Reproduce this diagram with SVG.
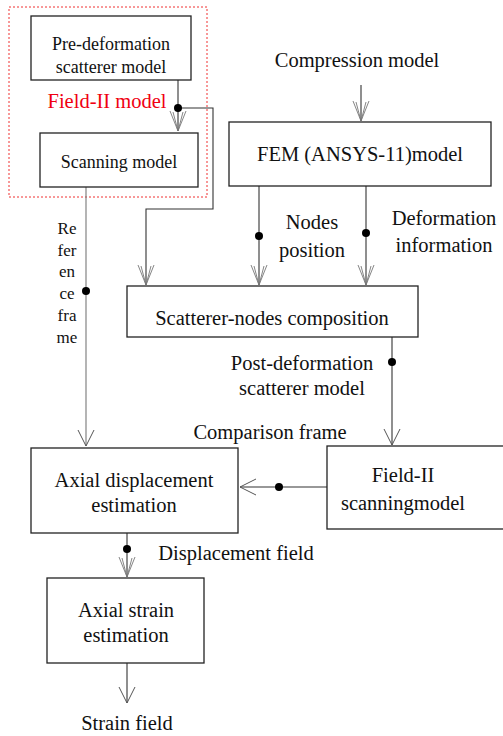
<svg xmlns="http://www.w3.org/2000/svg" width="503" height="736" viewBox="0 0 503 736">
<style>
.box{fill:#fff;stroke:#222;stroke-width:1.3}
.t{font-family:"Liberation Serif","Times New Roman",serif;font-size:20.5px;fill:#111;text-anchor:middle}
.s{font-size:18px}
.v{font-size:17px}
.red{fill:#f00011;font-size:20.5px}
.ln{fill:none;stroke:#333;stroke-width:1.1}
.gr{stroke:#777}
.dot{fill:#000}
</style>
<defs>
<marker id="a1" markerUnits="userSpaceOnUse" markerWidth="30" markerHeight="30" viewBox="-25 -15 30 30" refX="0" refY="0" orient="auto" overflow="visible">
<path d="M-16,-8 L0,0 L-16,8" fill="none" stroke="#555" stroke-width="1"/>
</marker>
<marker id="a2" markerUnits="userSpaceOnUse" markerWidth="30" markerHeight="30" viewBox="-25 -15 30 30" refX="0" refY="0" orient="auto" overflow="visible">
<path d="M-20,-8 L0,0 L-20,8 M-19,-5 L0,0 L-19,5" fill="none" stroke="#777" stroke-width="0.9"/>
</marker>
</defs>
<rect x="9" y="7" width="198" height="190" fill="none" stroke="#f03030" stroke-width="1" stroke-dasharray="2,2"/>
<g id="connectors">
<path class="ln" d="M178,80 V131" marker-end="url(#a2)"/>
<path class="ln" d="M178,108 H213 V209 H146 V285" marker-end="url(#a2)"/>
<path class="ln gr" d="M86,187 V446" marker-end="url(#a1)"/>
<path class="ln" d="M361,85 V121" marker-end="url(#a2)"/>
<path class="ln" d="M259,186 V285" marker-end="url(#a2)"/>
<path class="ln" d="M366,186 V285" marker-end="url(#a2)"/>
<path class="ln" d="M392,337 V445" marker-end="url(#a1)"/>
<path class="ln" d="M327,487 H240" marker-end="url(#a1)"/>
<path class="ln" d="M127,533 V577" marker-end="url(#a2)"/>
<path class="ln" d="M127,663 V703" marker-end="url(#a1)"/>
<circle class="dot" cx="178" cy="108" r="4"/>
<circle class="dot" cx="86" cy="291" r="4"/>
<circle class="dot" cx="259" cy="236" r="4"/>
<circle class="dot" cx="366" cy="233" r="4"/>
<circle class="dot" cx="392" cy="362" r="4"/>
<circle class="dot" cx="279" cy="487" r="4"/>
<circle class="dot" cx="127" cy="549" r="4"/>
</g>
<g id="labels">
<text class="t red" x="107" y="108">Field-II model</text>
<text class="t" x="357" y="67">Compression model</text>
<text class="t" x="312" y="229">Nodes</text>
<text class="t" x="312" y="257">position</text>
<text class="t" x="444" y="225">Deformation</text>
<text class="t" x="444" y="252">information</text>
<g class="t v">
<text x="67" y="234">Re</text>
<text x="67" y="256">fer</text>
<text x="67" y="277">en</text>
<text x="67" y="299">ce</text>
<text x="67" y="321">fra</text>
<text x="67" y="343">me</text>
</g>
<text class="t" x="302" y="370">Post-deformation</text>
<text class="t" x="302" y="395">scatterer model</text>
<text class="t" x="270" y="439">Comparison frame</text>
<text class="t" x="236" y="560">Displacement field</text>
<text class="t" x="127" y="730">Strain field</text>
</g>
<g id="pre">
<rect class="box" x="31" y="16" width="160" height="64"/>
<text class="t s" x="111" y="50">Pre-deformation</text>
<text class="t s" x="111" y="73">scatterer model</text>
</g>
<g id="scan">
<rect class="box" x="40" y="133" width="158" height="54"/>
<text class="t s" x="119" y="168">Scanning model</text>
</g>
<g id="fem">
<rect class="box" x="229" y="122" width="262" height="64"/>
<text class="t" x="360" y="161">FEM (ANSYS-11)model</text>
</g>
<g id="comp">
<rect class="box" x="127" y="286" width="291" height="51"/>
<text class="t" x="272" y="325">Scatterer-nodes composition</text>
</g>
<g id="field2">
<rect class="box" x="327" y="446" width="180" height="83"/>
<text class="t" x="403" y="482">Field-II</text>
<text class="t" x="403" y="510">scanningmodel</text>
</g>
<g id="axdisp">
<rect class="box" x="31" y="448" width="207" height="85"/>
<text class="t" x="134" y="487">Axial displacement</text>
<text class="t" x="134" y="512">estimation</text>
</g>
<g id="axstrain">
<rect class="box" x="47" y="578" width="157" height="85"/>
<text class="t" x="126" y="617">Axial strain</text>
<text class="t" x="126" y="642">estimation</text>
</g>
</svg>
